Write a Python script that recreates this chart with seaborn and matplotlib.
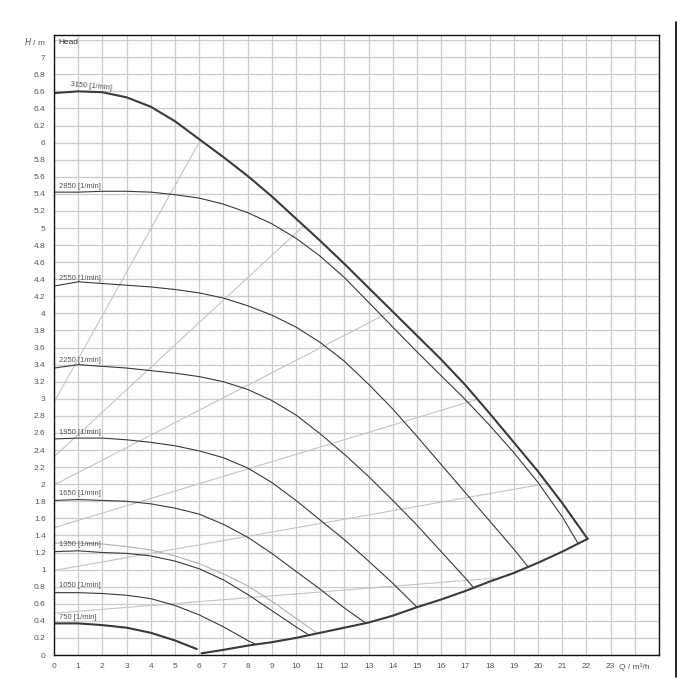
import matplotlib
matplotlib.use("Agg")
import matplotlib.pyplot as plt
import matplotlib.lines as mlines
import numpy as np
import seaborn as sns

# pump curves (Q in m3/h, H in m)
q_3150 = [0, 1, 2, 3, 4, 5, 6, 7, 8, 9, 10, 11, 12, 13, 14, 15, 16, 17, 18, 19, 20, 21, 22.05]
h_3150 = [6.58, 6.60, 6.59, 6.53, 6.42, 6.25, 6.04, 5.83, 5.61, 5.37, 5.11, 4.85, 4.58, 4.30,
          4.02, 3.74, 3.46, 3.16, 2.83, 2.49, 2.15, 1.78, 1.36]

q_2850 = [0, 1, 2, 3, 4, 5, 6, 7, 8, 9, 10, 11, 12, 13, 14, 15, 16, 17, 18, 19, 20, 21, 21.65]
h_2850 = [5.42, 5.42, 5.43, 5.43, 5.42, 5.39, 5.35, 5.28, 5.18, 5.05, 4.88, 4.67, 4.42, 4.13,
          3.84, 3.55, 3.27, 2.99, 2.69, 2.37, 2.02, 1.62, 1.31]

q_2550 = [0, 1, 2, 3, 4, 5, 6, 7, 8, 9, 10, 11, 12, 13, 14, 15, 16, 17, 18, 19, 19.6]
h_2550 = [4.32, 4.37, 4.35, 4.33, 4.31, 4.28, 4.24, 4.18, 4.09, 3.98, 3.84, 3.66, 3.44, 3.17,
          2.88, 2.56, 2.23, 1.90, 1.57, 1.24, 1.03]

q_2250 = [0, 1, 2, 3, 4, 5, 6, 7, 8, 9, 10, 11, 12, 13, 14, 15, 16, 17, 17.36]
h_2250 = [3.36, 3.40, 3.38, 3.36, 3.33, 3.30, 3.26, 3.20, 3.11, 2.98, 2.81, 2.59, 2.35, 2.09,
          1.81, 1.52, 1.21, 0.90, 0.78]

q_1950 = [0, 1, 2, 3, 4, 5, 6, 7, 8, 9, 10, 11, 12, 13, 14, 15]
h_1950 = [2.53, 2.54, 2.54, 2.52, 2.49, 2.45, 2.39, 2.31, 2.19, 2.02, 1.81, 1.58, 1.35, 1.10, 0.84, 0.56]

q_1650 = [0, 1, 2, 3, 4, 5, 6, 7, 8, 9, 10, 11, 12, 12.9]
h_1650 = [1.81, 1.82, 1.81, 1.80, 1.77, 1.72, 1.65, 1.53, 1.38, 1.19, 0.98, 0.77, 0.55, 0.37]

q_1350 = [0, 1, 2, 3, 4, 5, 6, 7, 8, 9, 10, 10.55]
h_1350 = [1.21, 1.22, 1.20, 1.19, 1.16, 1.10, 1.01, 0.88, 0.71, 0.52, 0.33, 0.23]

q_1350_light = [0, 1, 2, 3, 4, 5, 6, 7, 8, 9, 10, 10.85]
h_1350_light = [1.31, 1.31, 1.30, 1.27, 1.23, 1.16, 1.07, 0.95, 0.81, 0.63, 0.43, 0.26]

q_1050 = [0, 1, 2, 3, 4, 5, 6, 7, 8, 8.3]
h_1050 = [0.73, 0.73, 0.72, 0.70, 0.66, 0.58, 0.47, 0.33, 0.17, 0.13]

q_750 = [0, 1, 2, 3, 4, 5, 5.9]
h_750 = [0.37, 0.37, 0.35, 0.32, 0.26, 0.17, 0.07]

# lower limit curve
q_low = [6.1, 7, 8, 9, 10, 11, 12, 13, 14, 15, 16, 17, 18, 19, 20, 21, 22.05]
h_low = [0.02, 0.06, 0.11, 0.15, 0.20, 0.26, 0.32, 0.38, 0.46, 0.56, 0.65, 0.75, 0.86, 0.96,
         1.08, 1.21, 1.36]

# thin grey guide lines (start at Q=0)
guide_h0 = [2.96, 2.32, 1.99, 1.49, 0.99, 0.49]
guide_q1 = [6.05, 10.3, 13.9, 17.45, 20.4, 18.2]
guide_h1 = [6.03, 5.02, 4.02, 2.99, 2.01, 0.90]

speed_labels = ["2850", "2550", "2250", "1950", "1650", "1350", "1050", "750"]
label_h = [5.45, 4.37, 3.41, 2.57, 1.85, 1.25, 0.77, 0.40]

x_ticks = list(range(0, 24))
y_ticks = [round(0.2 * i, 1) for i in range(36)]

sns.set_style("white")
plt.rcParams['font.family'] = ['Liberation Sans', 'DejaVu Sans']

fig = plt.figure(figsize=(7, 7), dpi=100)
ax = fig.add_axes([54 / 700, 45 / 700, 605 / 700, 620 / 700])

dark = "#3a3a3a"
light = "#c4c4c4"

# guide lines
for h0, q1, h1 in zip(guide_h0, guide_q1, guide_h1):
    sns.lineplot(x=[0, q1], y=[h0, h1], ax=ax, color=light, lw=0.8, sort=False)
sns.lineplot(x=q_1350_light, y=h_1350_light, ax=ax, color="#b0b0b0", lw=0.8, sort=False)

# speed curves
thin = [(q_2850, h_2850), (q_2550, h_2550), (q_2250, h_2250), (q_1950, h_1950),
        (q_1650, h_1650), (q_1350, h_1350), (q_1050, h_1050)]
for q, h in thin:
    sns.lineplot(x=q, y=h, ax=ax, color=dark, lw=0.8, sort=False)
sns.lineplot(x=q_750, y=h_750, ax=ax, color=dark, lw=1.5, sort=False)
sns.lineplot(x=q_3150, y=h_3150, ax=ax, color=dark, lw=1.5, sort=False)
sns.lineplot(x=q_low, y=h_low, ax=ax, color=dark, lw=1.5, sort=False)

# curve labels
ax.text(0.65, 6.60, "3150 [1/min]", fontsize=5.5, color="#555555", rotation=-5,
        ha="left", va="bottom")
for lab, h in zip(speed_labels, label_h):
    ax.text(0.2, h, lab + " [1/min]", fontsize=5.5, color="#555555", ha="left", va="bottom")
ax.text(0.2, 7.17, "Head", fontsize=6, color="#333333", ha="left", va="center")

ax.set_xlim(0, 25)
ax.set_ylim(0, 7.26)
ax.set_xticks(list(range(0, 26)))
ax.set_xticklabels([str(v) for v in x_ticks] + ["Q / m³/h", ""])
ax.set_yticks(y_ticks + [7.2])
ax.set_yticklabels([("%g" % v) if v != 0 else "0" for v in y_ticks] + ["$H$ / m"])
ax.set_xticks(np.arange(0, 25.01, 0.2), minor=True)
ax.set_yticks(np.arange(0, 7.26, 0.05), minor=True)

ax.grid(True, which="major", color="#cccccc", lw=0.9)
ax.set_axisbelow(True)
ax.tick_params(which="major", direction="out", length=4, width=0.8, labelsize=6,
               labelcolor="#555555", color="#222222", pad=2)
ax.tick_params(which="minor", direction="out", length=2.5, width=0.7, color="#222222")
for s in ax.spines.values():
    s.set_visible(True)
    s.set_color("#111111")
    s.set_linewidth(1.0)
ax.set_xlabel("")
ax.set_ylabel("")

# outer frame line on the right
fig.add_artist(mlines.Line2D([676 / 700, 676 / 700], [23 / 700, 678 / 700],
                             transform=fig.transFigure, color="black", lw=1.2))

fig.savefig("out.png", dpi=100)
